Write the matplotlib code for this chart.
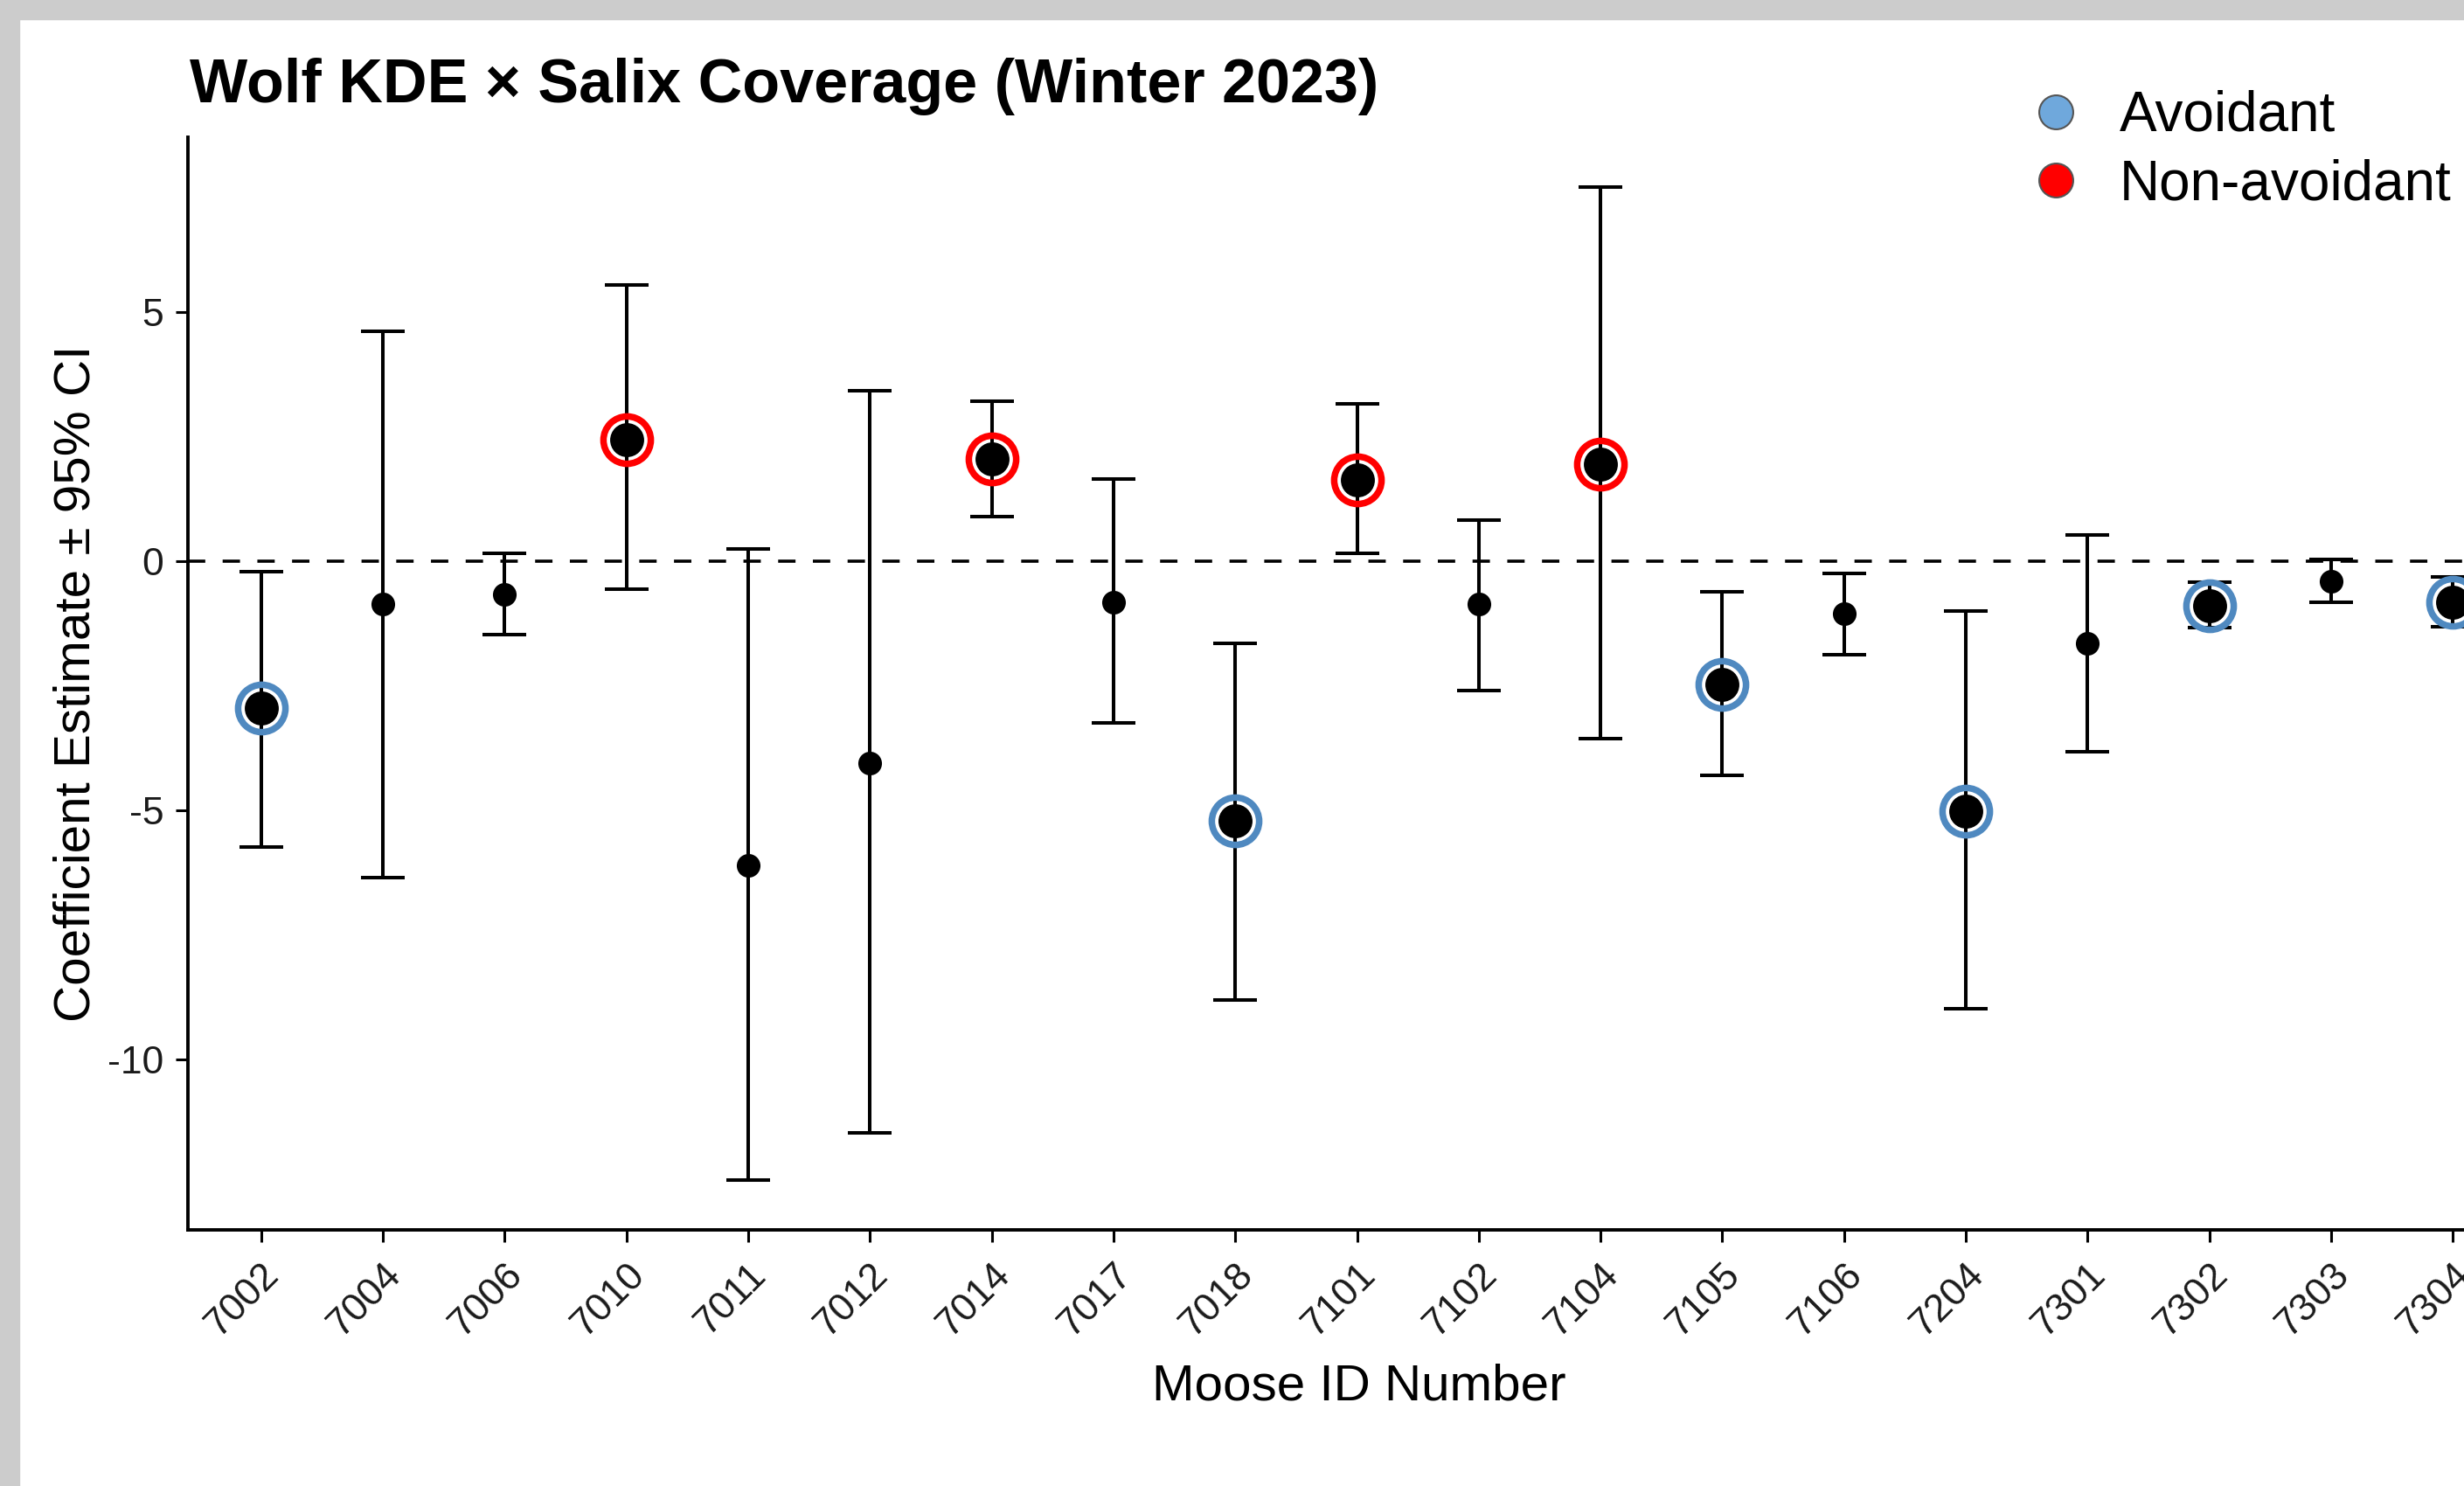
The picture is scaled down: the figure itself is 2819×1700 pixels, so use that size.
import matplotlib
matplotlib.use('Agg')
import matplotlib.pyplot as plt
from matplotlib.lines import Line2D
from matplotlib.patches import Rectangle
import numpy as np

# data
moose_ids = ['7002', '7004', '7006', '7010', '7011', '7012', '7014', '7017', '7018', '7101',
             '7102', '7104', '7105', '7106', '7204', '7301', '7302', '7303', '7304']
estimate = [-2.95, -0.86, -0.67, 2.44, -6.11, -4.06, 2.05, -0.82, -5.22, 1.63,
            -0.87, 1.95, -2.47, -1.06, -5.02, -1.65, -0.90, -0.40, -0.83]
ci_low = [-5.75, -6.35, -1.47, -0.57, -12.43, -11.48, 0.90, -3.25, -8.82, 0.15,
          -2.60, -3.57, -4.31, -1.88, -8.99, -3.82, -1.34, -0.83, -1.32]
ci_high = [-0.22, 4.62, 0.15, 5.54, 0.25, 3.41, 3.20, 1.65, -1.65, 3.15,
           0.82, 7.51, -0.62, -0.25, -1.00, 0.52, -0.42, 0.04, -0.32]
status = ['Avoidant', '', '', 'Non-avoidant', '', '', 'Non-avoidant', '', 'Avoidant', 'Non-avoidant',
          '', 'Non-avoidant', 'Avoidant', '', 'Avoidant', '', 'Avoidant', '', 'Avoidant']

ring_colors = {'Avoidant': '#4f89c0', 'Non-avoidant': '#ff0000'}
legend_colors = {'Avoidant': '#6fa8dc', 'Non-avoidant': '#ff0000'}

W, H = 2819, 1700
plt.rcParams['font.family'] = ['Liberation Sans', 'DejaVu Sans']
plt.rcParams['axes.unicode_minus'] = False

fig = plt.figure(figsize=(W / 100, H / 100), dpi=100)
fig.patch.set_facecolor('white')
# grey frame on top and left (screenshot border)
fig.patches.append(Rectangle((0, 0), 22 / W, 1, transform=fig.transFigure, color='#cccccc', zorder=-10))
fig.patches.append(Rectangle((0, 1 - 22 / H), 1, 22 / H, transform=fig.transFigure, color='#cccccc', zorder=-10))

ax = fig.add_axes([215 / W, 1 - 1407 / H, (2890 - 215) / W, (1407 - 157) / H])

x = np.arange(len(moose_ids))
est = np.array(estimate)
lo = np.array(ci_low)
hi = np.array(ci_high)

ax.axhline(0, color='black', lw=2.6, ls=(0, (5.5, 5.5)), zorder=1)

ax.errorbar(x, est, yerr=[est - lo, hi - est], fmt='none', ecolor='black',
            elinewidth=2.9, capsize=18, capthick=2.9, zorder=2)

flag = np.array([s != '' for s in status])
ax.plot(x[~flag], est[~flag], 'o', color='black', ms=19.5, mew=0, zorder=4)
for i in np.where(flag)[0]:
    ax.plot(x[i], est[i], 'o', mfc='none', mec=ring_colors[status[i]], ms=39, mew=5.4, zorder=3)
    ax.plot(x[i], est[i], 'o', color='black', ms=28, mew=0, zorder=4)

ax.set_xlim(-0.6, len(moose_ids) - 0.4)
ax.margins(y=0.05)
ax.set_xticks(x)
ax.set_xticklabels(moose_ids, rotation=45, ha='right', va='top', rotation_mode='anchor')
ax.set_yticks([-10, -5, 0, 5])

for s in ['top', 'right']:
    ax.spines[s].set_visible(False)
for s in ['left', 'bottom']:
    ax.spines[s].set_linewidth(2.8)

ax.tick_params(axis='both', length=10, width=2.2, labelsize=32, labelcolor='#1a1a1a')
ax.tick_params(axis='x', pad=12)
ax.tick_params(axis='y', pad=10)

ax.set_xlabel('Moose ID Number', fontsize=42)
ax.set_ylabel('Coefficient Estimate ± 95% CI', fontsize=42, labelpad=6)
ax.xaxis.set_label_coords((1555 - 215) / (2890 - 215), -(1602 - 1407) / (1407 - 157))
ax.xaxis.label.set_va('baseline')

fig.text(217 / W, 1 - 117 / H, 'Wolf KDE × Salix Coverage (Winter 2023)',
         fontsize=50.5, fontweight='bold', va='baseline', ha='left')

handles = [Line2D([], [], ls='none', marker='o', ms=28, mfc=legend_colors[k], mec='#555555', mew=1.5)
           for k in ['Avoidant', 'Non-avoidant']]
fig.legend(handles, ['Avoidant', 'Non-avoidant'], loc='upper left',
           bbox_to_anchor=(2320 / W, 1 - 103 / H), frameon=False, fontsize=46,
           handlelength=1.0, handletextpad=0.64, labelspacing=0.29,
           borderpad=0, borderaxespad=0)

fig.savefig('out.png', dpi=100, facecolor=fig.get_facecolor())
